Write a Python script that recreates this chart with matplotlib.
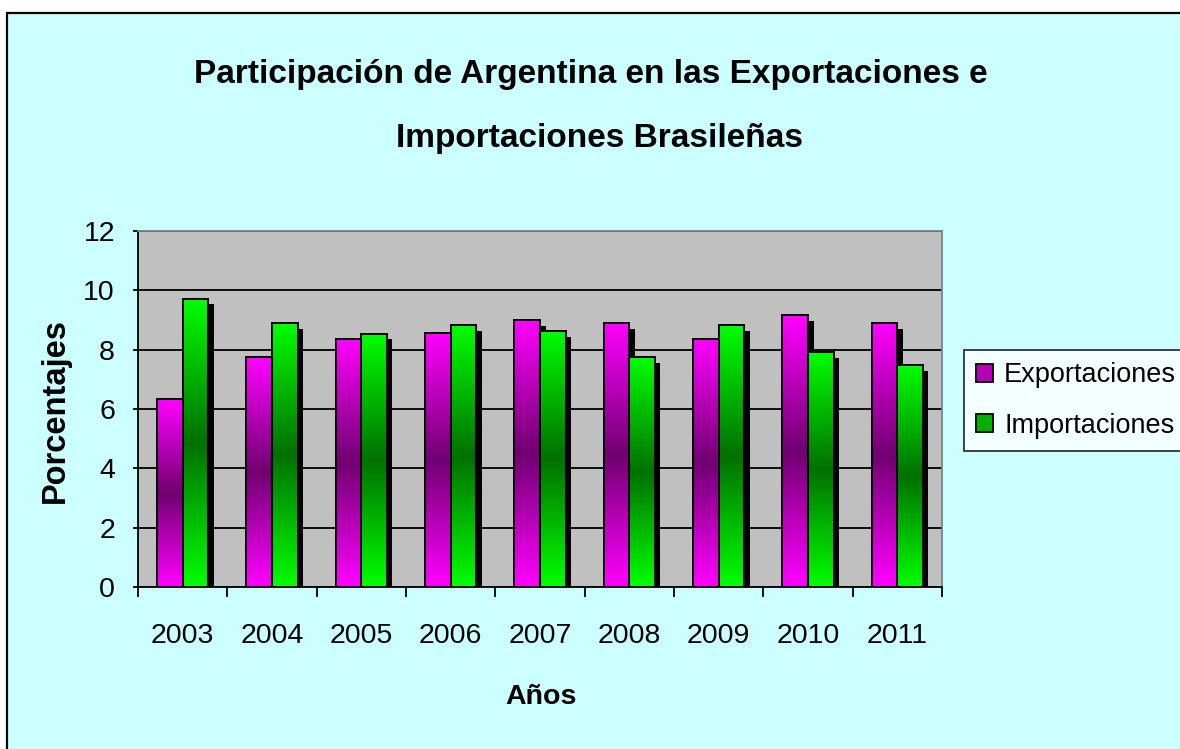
import numpy as np
import matplotlib
matplotlib.use('Agg')
import matplotlib.pyplot as plt
from matplotlib.colors import LinearSegmentedColormap
from matplotlib.patches import Rectangle, Patch
import matplotlib.patheffects as pe

plt.rcParams['font.family'] = ['Liberation Sans', 'DejaVu Sans']

years = ['2003', '2004', '2005', '2006', '2007', '2008', '2009', '2010', '2011']
exportaciones = [6.33, 7.75, 8.37, 8.55, 9.0, 8.9, 8.37, 9.16, 8.9]
importaciones = [9.71, 8.9, 8.53, 8.82, 8.63, 7.75, 8.82, 7.91, 7.48]
series_names = ['Exportaciones', 'Importaciones']

bg = '#CCFFFF'
cmap_exp = LinearSegmentedColormap.from_list('exp', ['#FF00FF', '#700070', '#FF00FF'])
cmap_imp = LinearSegmentedColormap.from_list('imp', ['#00FF00', '#007000', '#00FF00'])

fig = plt.figure(figsize=(11.8, 7.49), dpi=100, facecolor='white')
# outer chart frame
fig.patches.append(Rectangle((7/1180, -0.2), 1.2, 1.2 - 13/749, transform=fig.transFigure,
                             facecolor=bg, edgecolor='black', linewidth=1.6, zorder=-10))

ax = fig.add_axes([138/1180, 1 - 587/749, 804/1180, 356/749])
ax.set_facecolor('#C0C0C0')

x = np.arange(len(years))
w = 0.286
grad = np.linspace(0, 1, 256).reshape(-1, 1)

for vals, off, cm in [(exportaciones, -w/2, cmap_exp), (importaciones, w/2, cmap_imp)]:
    # shadows
    ax.bar(x + off, vals, w, color='black', zorder=2,
           path_effects=[pe.SimplePatchShadow(offset=(4, -4), shadow_rgbFace='black', alpha=1.0)])
    outl = ax.bar(x + off, vals, w, facecolor='none', edgecolor='black', linewidth=1.4, zorder=4)
    for b in outl:
        x0, y0 = b.get_x(), b.get_y()
        ax.imshow(grad, cmap=cm, aspect='auto', origin='lower', zorder=3,
                  extent=(x0, x0 + b.get_width(), y0, y0 + b.get_height()))

ax.set_xlim(-0.5, len(years) - 0.5)
ax.set_ylim(0, 12)
ax.set_yticks(np.arange(0, 13, 2))
ax.set_xticks(x)
ax.set_xticklabels(years)
ax.set_xticks(np.arange(len(years) + 1) - 0.5, minor=True)
ax.yaxis.grid(True, color='black', linewidth=1.3, zorder=1)
ax.set_axisbelow(True)

ax.tick_params(axis='x', which='major', length=0, pad=26, labelsize=20.5)
ax.tick_params(axis='x', which='minor', length=7, width=1.3, direction='out')
ax.tick_params(axis='y', length=3.6, width=1.3, direction='out', pad=13, labelsize=20.5)

for s in ['top', 'right']:
    ax.spines[s].set_color('#808080')
    ax.spines[s].set_linewidth(1.3)
for s in ['left', 'bottom']:
    ax.spines[s].set_color('black')
    ax.spines[s].set_linewidth(1.3)

ax.set_ylabel('Porcentajes', fontsize=23.5, fontweight='bold')
ax.yaxis.set_label_coords((55.5 - 138) / 804, 0.497)
ax.set_xlabel('Años', fontsize=20.5, fontweight='bold')
ax.xaxis.set_label_coords((541 - 138) / 804, (587 - 697) / 356)
ax.xaxis.label.set_va('center')
ax.yaxis.label.set_va('center')

fig.text(0.501, 1 - 83/749, 'Participación de Argentina en las Exportaciones e',
         ha='center', va='baseline', fontsize=24, fontweight='bold')
fig.text(0.508, 1 - 147/749, 'Importaciones Brasileñas',
         ha='center', va='baseline', fontsize=24, fontweight='bold')

handles = [Patch(facecolor='#B400B4', edgecolor='black', linewidth=1.3),
           Patch(facecolor='#00B000', edgecolor='black', linewidth=1.3)]
leg = fig.legend(handles, series_names, loc='upper left', bbox_to_anchor=(964/1180, 1 - 350/749),
                 fontsize=19.5, frameon=True, fancybox=False, edgecolor='black',
                 handlelength=0.63, handleheight=0.63, handletextpad=0.4, labelspacing=0.9,
                 borderpad=0.45, borderaxespad=0)
leg.get_frame().set_linewidth(1.3)
leg.get_frame().set_facecolor('white')

fig.savefig('out.png', dpi=100, facecolor='white')
